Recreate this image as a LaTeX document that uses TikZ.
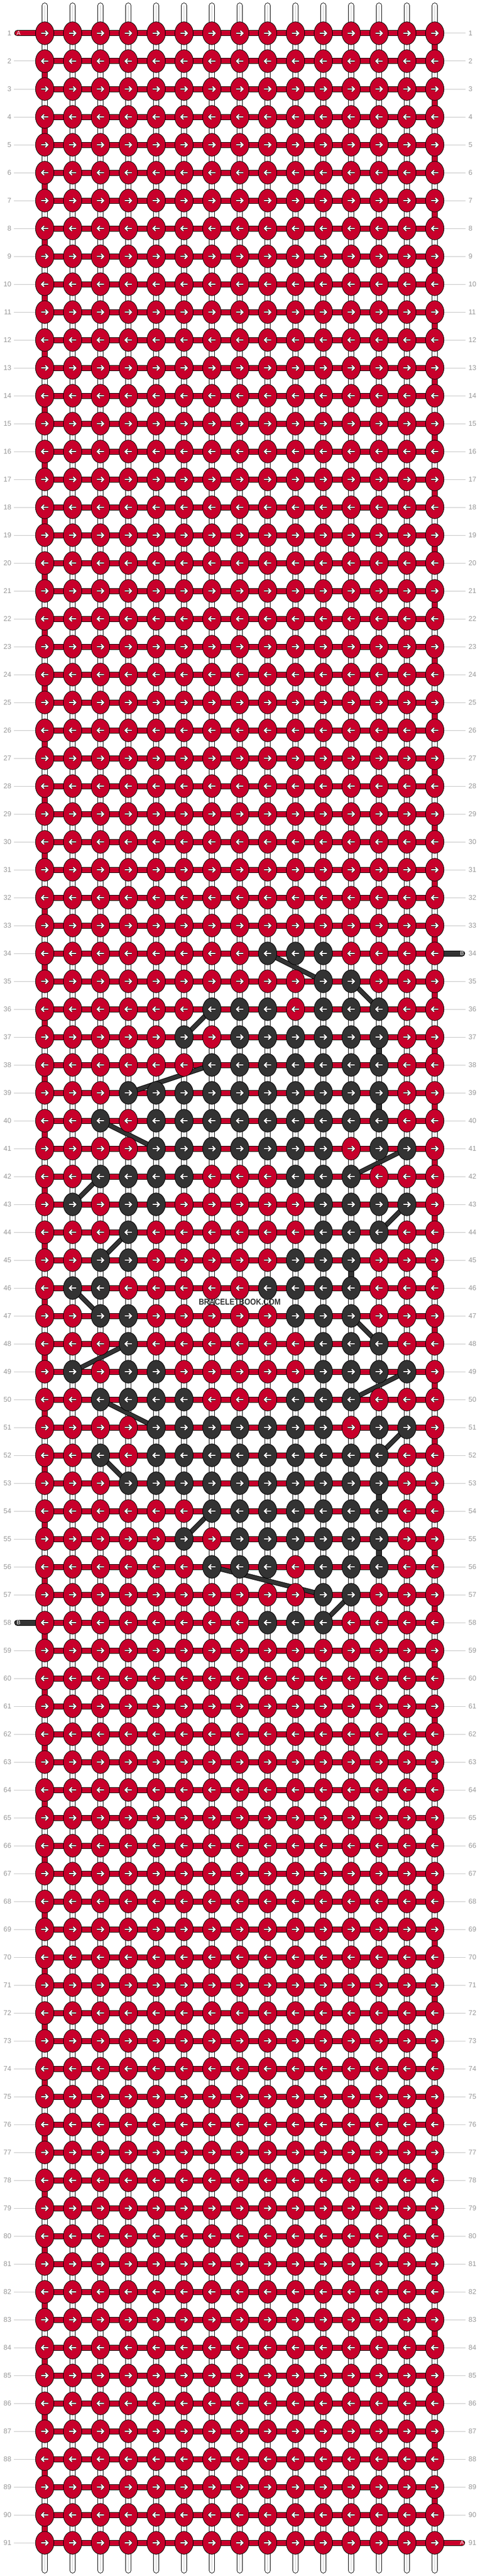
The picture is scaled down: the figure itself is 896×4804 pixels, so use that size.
\documentclass[tikz,border=0pt]{standalone}
\usepackage{fontspec}
\setmainfont{Liberation Sans}
\usetikzlibrary{shapes.geometric}
\definecolor{kred}{HTML}{C8002B}
\definecolor{kdark}{HTML}{333333}
\definecolor{lblgrey}{HTML}{999999}
\definecolor{lnGrey}{HTML}{C4C4C4}
\definecolor{midgrey}{HTML}{C8C8C8}
\pgfdeclarelayer{bg}
\pgfsetlayers{bg,main}
\tikzset{
 kknot/.style={ellipse, draw=black, line width=0.9pt, minimum width=34.4pt, minimum height=42.6pt, inner sep=0pt, outer sep=0pt},
 karrow/.style={draw=black, line width=0.7pt, double=white, double distance=2.4pt, line join=miter, line cap=butt},
 sgw/.style={draw=black, line width=1pt, double=white, double distance=8.7pt},
 sgr/.style={draw=black, line width=1pt, double=kred, double distance=8.7pt},
 sgd/.style={draw=black, line width=1pt, double=kdark, double distance=8.7pt},
 sgmid/.style={draw=midgrey, line width=0.8pt},
 hbar/.style={draw=black, line width=1pt, double=kred, double distance=9pt},
 bdiag/.style={draw=black, line width=1pt, double=kdark, double distance=7pt},
 stubr/.style={draw=black, line width=1pt, double=kred, double distance=9pt, line cap=round},
 stubd/.style={draw=black, line width=1pt, double=kdark, double distance=9pt, line cap=round},
 rowlbl/.style={text=lblgrey, font=\fontsize{13}{13}\selectfont, inner sep=0pt},
 lblline/.style={draw=lnGrey, line width=1pt},
 stubtxt/.style={text=white, font=\fontsize{10.7}{10.7}\selectfont, inner sep=0pt},
}
\begin{document}
\begin{tikzpicture}[x=1pt,y=-1pt]
\useasboundingbox (0,0) rectangle (896,4804);
% dark knots
\foreach \r/\l in {34/{9,10,11},35/{11,12},36/{7,8,9,11,12,13},37/{6,8,9,10,11,12,13},38/{7,8,9,10,11,12,13},
 39/{4,5,6,7,8,9,10,11,12,13},40/{3,5,6,7,8,9,10,11,12,13},41/{5,6,7,8,9,10,11,13,14},42/{3,4,5,6,10,11,12},
 43/{2,4,5,11,12,13,14},44/{4,11,12,13},45/{3,4,10,11,12},46/{2,3,9,10,11,12},47/{3,4,10,11,12},48/{4,11,12,13},
 49/{2,4,5,11,12,13,14},50/{3,4,5,6,10,11,12},51/{5,6,7,8,9,10,11,13,14},52/{3,5,6,7,8,9,10,11,12,13},
 53/{4,5,6,7,8,9,10,11,12,13},54/{7,8,9,10,11,12,13},55/{6,8,9,10,11,12,13},56/{7,8,9,11,12,13},57/{11,12},58/{9,10,11}}
 {\foreach \c in \l {\expandafter\gdef\csname bk-\r-\c\endcsname{1}}}
% knots and their arrows
\foreach \r in {1,...,91}{
 \pgfmathsetmacro\ky{62+52*(\r-1)}
 \ifodd\r \def\kdir{1}\else\def\kdir{-1}\fi
 \foreach \c in {1,...,15}{
  \pgfmathsetmacro\kx{83.5+52*(\c-1)}
  \ifcsname bk-\r-\c\endcsname\def\kc{kdark}\else\def\kc{kred}\fi
  \node[kknot,fill=\kc] (k-\r-\c) at (\kx,\ky) {};
 }
 \draw[karrow] \foreach \c [evaluate=\c as \kx using 83.5+52*(\c-1)] in {1,...,15}{
   ({\kx-6.5*\kdir},\ky) -- ({\kx+5.8*\kdir},\ky)
   ({\kx+1.2*\kdir},{\ky-4.6}) -- ({\kx+5.8*\kdir},\ky) -- ({\kx+1.2*\kdir},{\ky+4.6}) };
}
% row labels
\foreach \r in {1,...,91}{
 \pgfmathsetmacro\ky{62+52*(\r-1)}
 \node[rowlbl,anchor=east] (ln-\r) at (21.2,\ky) {\r};
 \node[rowlbl,anchor=west] (rn-\r) at (874.5,\ky) {\r};
 \coordinate (ll-\r) at (26,\ky);
 \coordinate (rl-\r) at (869,\ky);
}
% stub texts
\node[stubtxt] (tA1) at (34.7,62) {A};
\node[stubtxt] (tB58) at (34.7,3026) {B};
\node[stubtxt] (tB34) at (862.5,1778) {B};
\node[stubtxt] (tA91) at (862.5,4742) {A};
% watermark
\node[text=kdark, font=\bfseries\fontsize{16}{16}\selectfont, inner sep=0pt] (wm) at (447.5,2428) {\scalebox{0.865}[1]{BRACELETBOOK.COM}};
\begin{pgfonlayer}{bg}
\fill[white] (0,0) rectangle (896,4804);
% vertical strings, full length
\foreach \c in {1,...,15}{
 \pgfmathsetmacro\kx{83.5+52*(\c-1)}
 \coordinate (top-\c) at (\kx,10.35);
 \coordinate (bot-\c) at (\kx,4793.6);
 \draw[sgw,line cap=round] (top-\c) -- (bot-\c);
 \draw[sgmid] (top-\c) -- (bot-\c);
}
% red turns at the edges
\draw[sgr] \foreach \r [evaluate=\r as \rn using int(\r+1)] in {1,3,...,89}{ (k-\r-15.center) -- (k-\rn-15.center) };
\draw[sgr] \foreach \r [evaluate=\r as \rn using int(\r+1)] in {2,4,...,90}{ (k-\r-1.center) -- (k-\rn-1.center) };
% dark vertical pieces
\draw[sgd] \foreach \r/\c in {37/13,39/13,45/12,53/13,55/13}{ (k-\r-\c.center) -- ([yshift=-52pt]k-\r-\c.center) };
% horizontal bars
\foreach \r in {1,...,91}{ \draw[hbar] (k-\r-1.center) -- (k-\r-15.center); }
% label lines
\draw[lblline] \foreach \r in {2,...,57,59,60,...,91}{ (ll-\r) -- (k-\r-1.west) };
\draw[lblline] \foreach \r in {1,...,33,35,36,...,90}{ (k-\r-15.east) -- (rl-\r) };
% stubs
\coordinate (sA1) at (32.2,62);
\coordinate (sB58) at (32.2,3026);
\coordinate (sB34) at (862.5,1778);
\coordinate (sA91) at (862.5,4742);
\draw[stubr] (sA1) -- (k-1-1.center);
\draw[stubd] (sB58) -- (k-58-1.center);
\draw[stubd] (k-34-15.center) -- (sB34);
\draw[stubr] (k-91-15.center) -- (sA91);
% dark strand passing behind
\foreach \a/\b in {34-9/35-11,35-12/36-13,36-7/37-6,38-7/39-4,40-3/41-5,41-14/42-12,42-3/43-2,43-14/44-13,
 44-4/45-3,46-2/47-3,47-12/48-13,48-4/49-2,49-14/50-12,50-3/51-5,51-14/52-13,52-3/53-4,54-7/55-6,56-7/57-11,57-12/58-11}
 {\draw[bdiag] (k-\a.center) -- (k-\b.center);}
\end{pgfonlayer}
\end{tikzpicture}
\end{document}
